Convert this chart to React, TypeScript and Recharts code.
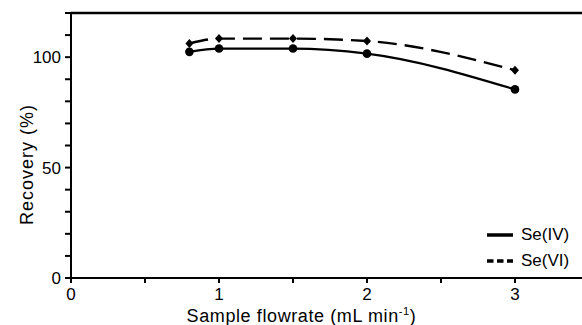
import React from 'react';
import { LineChart, Line, XAxis, YAxis, ReferenceLine, Legend, Label } from 'recharts';

const flowrates = [0.8, 1, 1.5, 2, 3];
const seIV = [102.4, 103.9, 103.9, 101.6, 85.4];
const seVI = [106.2, 108.4, 108.4, 107.3, 94.1];
const seriesNames = ['Se(IV)', 'Se(VI)'];
const xTicks = [0, 0.5, 1, 1.5, 2, 2.5, 3];
const yTicks = [0, 10, 20, 30, 40, 50, 60, 70, 80, 90, 100, 110, 120];
const xLabelMain = 'Sample flowrate (mL min';
const xLabelSup = '-1';
const yLabel = 'Recovery (%)';

const data = flowrates.map((x, i) => ({ x, seIV: seIV[i], seVI: seVI[i] }));

const FONT = '"Liberation Sans", Arial, Helvetica, sans-serif';

const Diamond = (props: any) => {
  const { cx, cy } = props;
  if (cx == null || cy == null) return null;
  return (
    <polygon
      points={`${cx},${cy - 4.5} ${cx + 4},${cy} ${cx},${cy + 4.5} ${cx - 4},${cy}`}
      fill="#000"
      stroke="none"
    />
  );
};

const CircleDot = (props: any) => {
  const { cx, cy } = props;
  if (cx == null || cy == null) return null;
  return <circle cx={cx} cy={cy} r={4.3} fill="#000" stroke="none" />;
};

const LegendContent = () => (
  <div style={{ fontFamily: FONT, fontSize: 17, color: '#000' }}>
    {seriesNames.map((name, i) => (
      <div key={name} style={{ display: 'flex', alignItems: 'center', height: 26 }}>
        <svg width={30} height={10} style={{ display: 'block' }}>
          <line
            x1={3}
            x2={29}
            y1={5}
            y2={5}
            stroke="#000"
            strokeWidth={3.5}
            strokeDasharray={i === 1 ? '6.5 3.5' : undefined}
          />
        </svg>
        <span style={{ marginLeft: 7, lineHeight: '26px' }}>{name}</span>
      </div>
    ))}
  </div>
);

const XLabel = () => (
  <text
    x={301.5}
    y={322}
    textAnchor="middle"
    fontFamily={FONT}
    fontSize={18}
    fill="#000"
    letterSpacing={0.6}
  >
    {xLabelMain}
    <tspan fontSize={11} dy={-7}>{xLabelSup}</tspan>
    <tspan dy={7}>)</tspan>
  </text>
);

const YLabel = () => (
  <text
    x={27}
    y={164.5}
    transform="rotate(-90 27 164.5)"
    textAnchor="middle"
    dominantBaseline="central"
    fontFamily={FONT}
    fontSize={18}
    fill="#000"
    letterSpacing={1}
  >
    {yLabel}
  </text>
);

export default function App() {
  return (
    <div style={{ position: 'absolute', left: 0, top: 0, width: 582, height: 325, background: '#fff' }}>
      <LineChart
        width={582}
        height={325}
        data={data}
        margin={{ top: 13, right: 0, bottom: 0, left: 0 }}
      >
        <XAxis
          dataKey="x"
          type="number"
          domain={[0, 3.4527]}
          allowDataOverflow
          ticks={xTicks}
          tickFormatter={(v: number) => (Number.isInteger(v) ? String(v) : '')}
          height={47}
          axisLine={{ stroke: '#000', strokeWidth: 2 }}
          tickLine={{ stroke: '#000', strokeWidth: 2 }}
          tickSize={5}
          tickMargin={5}
          tick={{ fill: '#000', fontSize: 17, fontFamily: FONT }}
          interval={0}
        >
          <Label content={<XLabel />} />
        </XAxis>
        <YAxis
          type="number"
          domain={[0, 120]}
          ticks={yTicks}
          tickFormatter={(v: number) => (v % 50 === 0 && v <= 100 ? String(v) : '')}
          width={71}
          axisLine={{ stroke: '#000', strokeWidth: 2 }}
          tickLine={{ stroke: '#000', strokeWidth: 2 }}
          tickSize={6}
          tickMargin={4}
          tick={{ fill: '#000', fontSize: 17, fontFamily: FONT }}
          interval={0}
        >
          <Label content={<YLabel />} />
        </YAxis>
        <ReferenceLine y={120} stroke="#000" strokeWidth={2.5} />
        <Line
          type="monotone"
          dataKey="seIV"
          name={seriesNames[0]}
          stroke="#000"
          strokeWidth={2.2}
          dot={<CircleDot />}
          activeDot={false}
          isAnimationActive={false}
        />
        <Line
          type="monotone"
          dataKey="seVI"
          name={seriesNames[1]}
          stroke="#000"
          strokeWidth={2.4}
          strokeDasharray="19 8"
          dot={<Diamond />}
          activeDot={false}
          isAnimationActive={false}
        />
        <Legend
          layout="vertical"
          align="center"
          verticalAlign="middle"
          content={<LegendContent />}
          wrapperStyle={{ position: 'absolute', left: 484, top: 222, width: 98, height: 52 }}
        />
      </LineChart>
    </div>
  );
}
